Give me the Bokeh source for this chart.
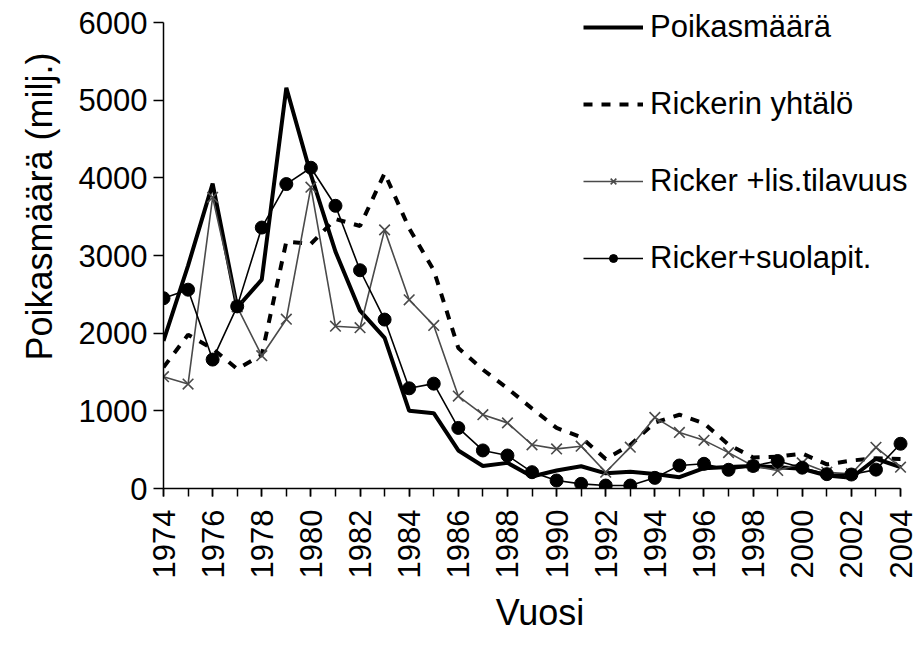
from bokeh.plotting import figure
from bokeh.models import FixedTicker, Range1d
from bokeh.embed import file_html
from bokeh.resources import INLINE

years = list(range(1974, 2005))

poikasmaara = [1900, 2870, 3925, 2330, 2690, 5160, 4040, 3050, 2290, 1940,
               1000, 970, 490, 290, 330, 155, 232, 287, 195, 215,
               187, 146, 262, 278, 290, 275, 253, 168, 138, 383, 275]

rickerin = [1560, 1980, 1800, 1540, 1720, 3180, 3150, 3470, 3380, 4060,
            3350, 2810, 1810, 1530, 1290, 1030, 780, 660, 380, 560,
            850, 950, 840, 565, 400, 410, 450, 310, 360, 390, 380]

ricker_lis = [1440, 1345, 3750, 2340, 1710, 2180, 3880, 2090, 2070, 3330,
              2430, 2100, 1190, 950, 845, 563, 510, 545, 210, 532,
              915, 722, 620, 462, 290, 232, 330, 210, 190, 530, 275]

ricker_suola = [2450, 2560, 1660, 2345, 3360, 3920, 4130, 3640, 2810, 2175,
                1290, 1350, 780, 490, 425, 210, 103, 60, 38, 38,
                137, 296, 318, 241, 290, 354, 268, 185, 180, 243, 576]

y_ticks = [0, 1000, 2000, 3000, 4000, 5000, 6000]
x_label_years = list(range(1974, 2005, 2))

FONT = "Liberation Sans"

# frame is a bit larger than the axes so that the legend is not clipped;
# the axes themselves are bounded to 1974-2004 and 0-6000
p = figure(width=918, height=640, output_backend="svg", toolbar_location=None,
           x_range=Range1d(1974, 2004.65), y_range=Range1d(0, 6232),
           min_border_left=163, min_border_right=2, min_border_top=4,
           min_border_bottom=152)
p.outline_line_color = None
p.xgrid.visible = False
p.ygrid.visible = False
p.background_fill_color = "white"
p.border_fill_color = "white"

gray = "#4a4a4a"

p.line(years, poikasmaara, line_color="black", line_width=4,
       legend_label="Poikasmäärä")
p.line(years, rickerin, line_color="black", line_width=4,
       line_dash="9 9", legend_label="Rickerin yhtälö")
p.line(years, ricker_lis, line_color=gray, line_width=1.6,
       legend_label="Ricker +lis.tilavuus")
p.scatter(years, ricker_lis, marker="x", size=15, line_color=gray,
          line_width=1.6, legend_label="Ricker +lis.tilavuus")
p.line(years, ricker_suola, line_color="black", line_width=1.6,
       legend_label="Ricker+suolapit.")
p.scatter(years, ricker_suola, marker="circle", size=13, fill_color="black",
          line_color="black", legend_label="Ricker+suolapit.")

# axes
xa = p.xaxis[0]
xa.bounds = (1974, 2004)
xa.ticker = FixedTicker(ticks=x_label_years, minor_ticks=years)
xa.major_label_orientation = 1.5707963
xa.major_tick_out = 8
xa.major_tick_in = 0
xa.minor_tick_out = 8
xa.minor_tick_in = 0
xa.major_label_standoff = 13
xa.axis_label = "Vuosi"
xa.axis_label_standoff = 11

ya = p.yaxis[0]
ya.bounds = (0, 6000)
ya.ticker = FixedTicker(ticks=y_ticks)
ya.major_tick_out = 10
ya.major_tick_in = 0
ya.major_label_standoff = 6
ya.axis_label = "\u00a0" * 8 + "Poikasmäärä (milj.)"
ya.axis_label_standoff = 16

for ax in (xa, ya):
    ax.axis_line_color = "black"
    ax.axis_line_width = 1.5
    ax.major_tick_line_color = "black"
    ax.major_tick_line_width = 1.5
    ax.minor_tick_line_width = 1.5
    ax.major_label_text_font = FONT
    ax.major_label_text_font_size = "31px"
    ax.major_label_text_color = "black"
    ax.axis_label_text_font = FONT
    ax.axis_label_text_font_size = "36px"
    ax.axis_label_text_font_style = "normal"
    ax.axis_label_text_color = "black"
xa.minor_tick_line_color = "black"
ya.minor_tick_line_color = None

lg = p.legend[0]
lg.location = (420, 212)
lg.label_text_font = FONT
lg.label_text_font_size = "31px"
lg.label_text_color = "black"
lg.glyph_width = 60
lg.glyph_height = 20
lg.label_height = 37
lg.label_standoff = 7
lg.spacing = 40
lg.padding = 0
lg.margin = 0
lg.border_line_color = None
lg.background_fill_alpha = 0

open("out.html", "w").write(file_html(p, INLINE))
